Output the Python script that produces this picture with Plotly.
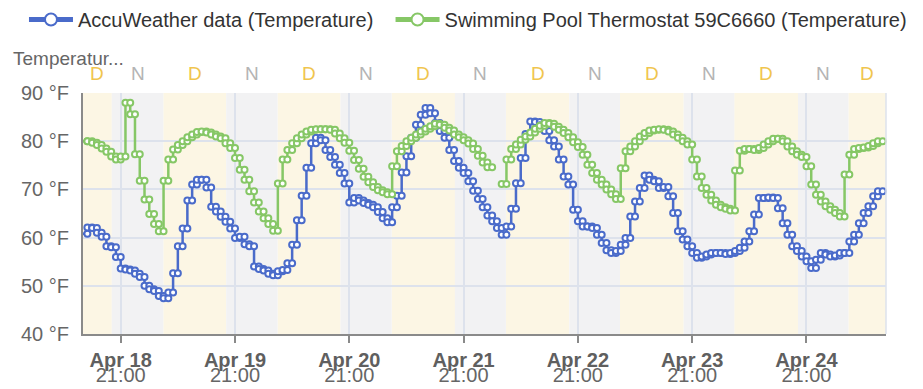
import plotly.graph_objects as go
from datetime import datetime, timedelta

# ---------------- data ----------------
series_start = "2024-04-18 13:00"   # first hourly reading
accu_name = "AccuWeather data (Temperature)"
pool_name = "Swimming Pool Thermostat 59C6660 (Temperature)"

accu_temps = [
    60.8, 62.1, 62.0, 61.0, 60.2, 58.2, 58.0, 56.0, 53.6, 53.4, 53.2, 52.5, 51.8, 50.0, 49.3, 48.9,
    47.9, 47.4, 48.6, 52.6, 58.2, 61.9, 67.7, 71.0, 72.0, 72.0, 70.4, 66.4, 65.4, 64.3, 63.3, 61.9,
    59.9, 60.2, 58.6, 58.2, 54.0, 53.5, 53.2, 52.5, 52.2, 53.0, 53.3, 54.7, 58.5, 63.6, 68.7, 74.5,
    79.6, 80.7, 80.2, 78.2, 76.7, 75.1, 73.4, 71.2, 67.3, 68.2, 67.7, 67.2, 66.8, 66.3, 65.3, 64.0,
    63.2, 66.3, 68.7, 73.5, 76.9, 80.7, 83.4, 85.5, 86.9, 85.8, 83.8, 82.1, 80.7, 78.2, 75.9, 74.5,
    73.4, 71.7, 69.7, 68.0, 66.3, 64.6, 63.4, 62.0, 60.6, 62.3, 66.0, 71.3, 76.5, 81.5, 84.1, 84.0,
    83.3, 82.1, 80.2, 78.9, 76.2, 72.7, 71.0, 65.8, 63.4, 62.3, 62.3, 62.0, 60.6, 58.9, 57.4, 56.8,
    57.2, 58.5, 59.9, 64.4, 67.5, 70.3, 72.9, 72.0, 71.7, 70.3, 70.5, 68.6, 65.1, 61.3, 59.6, 58.2,
    56.8, 55.8, 56.1, 56.5, 56.8, 56.8, 56.8, 56.6, 56.8, 57.2, 57.9, 59.2, 61.3, 64.8, 68.2, 68.2,
    68.3, 68.2, 66.1, 63.0, 60.6, 58.2, 57.2, 56.1, 55.1, 53.7, 55.4, 56.8, 56.5, 56.1, 56.3, 56.8,
    56.8, 59.2, 60.6, 63.0, 65.1, 66.5, 68.6, 69.6,
]

pool_temps = [
    80.0, 80.0, 79.7, 79.2, 78.5, 77.8, 76.8, 76.2, 76.8, 88.0, 85.6, 77.3, 71.8, 67.9, 64.9, 62.8,
    61.3, 71.8, 76.2, 78.3, 79.2, 80.0, 80.8, 81.4, 81.9, 82.0, 81.8, 81.4, 81.0, 80.6, 79.6, 78.6,
    76.5, 74.1, 72.0, 69.6, 67.3, 65.4, 64.0, 62.8, 61.4, 71.2, 76.2, 78.2, 79.6, 80.6, 81.4, 82.0,
    82.4, 82.5, 82.5, 82.5, 82.4, 81.6, 80.6, 79.7, 78.0, 76.1, 74.3, 72.6, 71.5, 70.5, 69.8, 69.4,
    69.0, 74.8, 77.9, 79.0, 80.0, 80.7, 81.4, 82.0, 82.6, 83.1, 83.6, 83.4, 82.8, 82.2, 81.4, 80.8,
    80.2, 79.5, 78.4, 77.0, 75.6, 74.6, None, None, 71.1, 76.2, 78.4, 79.3, 80.3, 81.0, 81.8, 82.6,
    83.2, 83.8, 83.6, 83.0, 82.4, 81.7, 80.8, 79.8, 78.8, 77.2, 75.1, 73.4, 72.0, 71.0, 70.0, 69.0,
    68.0, 74.4, 77.9, 78.9, 80.0, 81.0, 81.7, 82.2, 82.4, 82.5, 82.4, 82.0, 81.4, 80.7, 80.0, 79.3,
    76.2, 72.7, 70.3, 68.9, 67.7, 66.8, 66.3, 66.0, 65.6, 73.9, 78.0, 78.4, 78.4, 78.2, 78.6, 79.3,
    80.0, 80.5, 80.5, 80.0, 78.9, 77.9, 77.2, 76.7, 74.8, 71.0, 68.9, 67.5, 66.5, 65.8, 65.1, 64.4,
    73.1, 77.2, 78.4, 78.6, 78.7, 79.0, 79.6, 80.0,
]

sunset_times = ["2024-04-18 19:08", "2024-04-19 19:09", "2024-04-20 19:10", "2024-04-21 19:11",
                "2024-04-22 19:12", "2024-04-23 19:13", "2024-04-24 19:14"]
sunrise_times = ["2024-04-19 05:57", "2024-04-20 05:56", "2024-04-21 05:54", "2024-04-22 05:53",
                 "2024-04-23 05:51", "2024-04-24 05:50", "2024-04-25 05:48"]

view_start = "2024-04-18 13:05"
view_end = "2024-04-25 13:42"

tick_dates = ["2024-04-18 21:00", "2024-04-19 21:00", "2024-04-20 21:00", "2024-04-21 21:00",
              "2024-04-22 21:00", "2024-04-23 21:00", "2024-04-24 21:00"]
tick_day_labels = ["Apr 18", "Apr 19", "Apr 20", "Apr 21", "Apr 22", "Apr 23", "Apr 24"]
tick_time_labels = ["21:00"] * 7

y_ticks = [40, 50, 60, 70, 80, 90]
y_tick_labels = ["40 °F", "50 °F", "60 °F", "70 °F", "80 °F", "90 °F"]
y_title = "Temperatur..."

# ---------------- styles ----------------
FONT = "Liberation Sans, Arial, Helvetica, sans-serif"
BLUE = "#4a6bca"
GREEN = "#86c766"
DAY_FILL = "#fcf6e4"
NIGHT_FILL = "#f2f2f3"
DAY_TXT = "#f0c54e"
NIGHT_TXT = "#b4b4b4"
GRID = "#dde2ec"
AXIS = "#8a8a8a"
TXT = "#666666"

fmt = "%Y-%m-%d %H:%M"
t_start = datetime.strptime(series_start, fmt)


def step_xy(values):
    xs, ys = [], []
    for i, v in enumerate(values):
        t0 = t_start + timedelta(hours=i)
        t1 = t0 + timedelta(hours=1)
        if v is None:
            xs.append(t0)
            ys.append(None)
            continue
        xs += [t0, t1]
        ys += [v, v]
    return xs, ys


fig = go.Figure()

for name, vals, col, leg in [(accu_name, accu_temps, BLUE, "legend"),
                             (pool_name, pool_temps, GREEN, "legend2")]:
    xs, ys = step_xy(vals)
    fig.add_trace(go.Scatter(
        x=xs, y=ys, name=name, mode="lines+markers", cliponaxis=False,
        line=dict(color=col, width=2.5),
        marker=dict(symbol="circle", size=6, color="white", line=dict(color=col, width=2)),
        connectgaps=False, legend=leg,
    ))

# helper trace for second label row (times)
fig.add_trace(go.Scatter(x=[tick_dates[0]], y=[None], xaxis="x2", showlegend=False,
                         hoverinfo="skip"))

# day / night bands
vs = datetime.strptime(view_start, fmt)
ve = datetime.strptime(view_end, fmt)
sunsets = [datetime.strptime(s, fmt) for s in sunset_times]
sunrises = [datetime.strptime(s, fmt) for s in sunrise_times]
day_periods = [(vs, sunsets[0])] + [(sunrises[i], sunsets[i + 1]) for i in range(len(sunsets) - 1)] \
              + [(sunrises[-1], ve)]
night_periods = [(sunsets[i], sunrises[i]) for i in range(len(sunsets))]

shapes = []
annotations = []
for periods, fill, lab, col in [(day_periods, DAY_FILL, "D", DAY_TXT),
                                (night_periods, NIGHT_FILL, "N", NIGHT_TXT)]:
    for a, b in periods:
        shapes.append(dict(type="rect", xref="x", yref="paper", x0=a, x1=b, y0=0, y1=1,
                           fillcolor=fill, line=dict(width=0), layer="below"))
        mid = a + (b - a) / 2
        annotations.append(dict(x=mid, y=1.079, xref="x", yref="paper", text=lab,
                                showarrow=False, yanchor="middle",
                                font=dict(family=FONT, size=19, color=col)))

shapes.append(dict(type="line", xref="paper", yref="paper", x0=1, x1=1, y0=0, y1=1,
                   line=dict(color=GRID, width=1.5)))

annotations.append(dict(x=-0.09, y=1.145, xref="paper", yref="paper", text=y_title,
                        showarrow=False, xanchor="left", yanchor="middle",
                        font=dict(family=FONT, size=19, color=TXT)))

legend_style = dict(orientation="h", xref="paper", xanchor="left",
                    y=1.386, yref="paper", yanchor="top", itemwidth=44,
                    itemsizing="constant",
                    font=dict(family=FONT, size=20, color="#333333"),
                    bgcolor="rgba(0,0,0,0)", itemclick=False)

# page has an 8px body margin, so the figure is sized 8px smaller than the window
fig.update_layout(
    width=915, height=381,
    margin=dict(l=75, r=37, t=85, b=55, autoexpand=False),
    paper_bgcolor="white", plot_bgcolor="white",
    font=dict(family=FONT, size=20, color=TXT),
    showlegend=True,
    legend=dict(x=-0.0735, **legend_style),
    legend2=dict(x=0.383, **legend_style),
    shapes=shapes, annotations=annotations,
    xaxis=dict(range=[view_start, view_end], type="date",
               tickmode="array", tickvals=tick_dates,
               ticktext=["<b>%s</b>" % t for t in tick_day_labels],
               ticks="outside", ticklen=7, tickwidth=2, tickcolor=AXIS,
               showline=True, linecolor=AXIS, linewidth=2,
               showgrid=True, gridcolor=GRID, gridwidth=1.5, zeroline=False,
               tickfont=dict(family=FONT, size=20, color="#5f5f5f")),
    xaxis2=dict(range=[view_start, view_end], type="date", overlaying="x", side="bottom",
                anchor="y", matches="x",
                tickmode="array", tickvals=tick_dates, ticktext=tick_time_labels,
                ticks="", showline=False, showgrid=False, zeroline=False,
                ticklabelstandoff=27,
                tickfont=dict(family=FONT, size=20, color=TXT)),
    yaxis=dict(range=[40, 90], tickmode="array", tickvals=y_ticks, ticktext=y_tick_labels,
               ticks="", showline=True, linecolor=AXIS, linewidth=2,
               showgrid=True, gridcolor=GRID, gridwidth=1.5, zeroline=False,
               ticklabelstandoff=8,
               tickfont=dict(family=FONT, size=20, color=TXT)),
)

fig.write_html("out.html")
